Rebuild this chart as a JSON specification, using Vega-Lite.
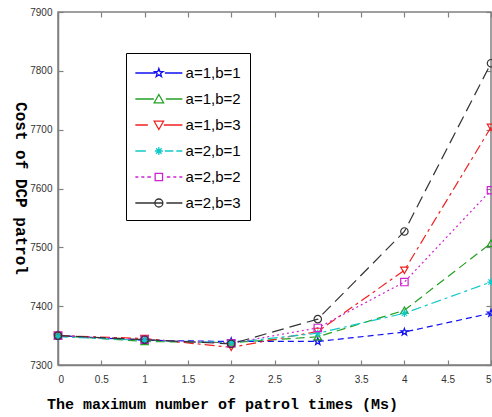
{
  "$schema": "https://vega.github.io/schema/vega-lite/v6.json",
  "width": 433,
  "height": 353,
  "autosize": {"type": "none"},
  "padding": {"left": 58, "top": 12, "right": 1, "bottom": 52},
  "background": "white",
  "config": {
    "view": {"stroke": "#808080", "strokeWidth": 1.5},
    "axis": {
      "labelFont": "Liberation Sans",
      "labelFontSize": 10,
      "labelColor": "#333333",
      "domainColor": "#808080",
      "domainWidth": 1.5,
      "tickColor": "#808080",
      "tickWidth": 1.2,
      "tickSize": -5,
      "grid": false
    }
  },
  "data": {
    "values": [
      {"x": 0, "y": 7350, "s": "a=1,b=1"},
      {"x": 1, "y": 7342, "s": "a=1,b=1"},
      {"x": 2, "y": 7340, "s": "a=1,b=1"},
      {"x": 3, "y": 7340, "s": "a=1,b=1"},
      {"x": 4, "y": 7356, "s": "a=1,b=1"},
      {"x": 5, "y": 7388, "s": "a=1,b=1"},
      {"x": 0, "y": 7350, "s": "a=1,b=2"},
      {"x": 1, "y": 7340, "s": "a=1,b=2"},
      {"x": 2, "y": 7338, "s": "a=1,b=2"},
      {"x": 3, "y": 7348, "s": "a=1,b=2"},
      {"x": 4, "y": 7393, "s": "a=1,b=2"},
      {"x": 5, "y": 7507, "s": "a=1,b=2"},
      {"x": 0, "y": 7350, "s": "a=1,b=3"},
      {"x": 1, "y": 7345, "s": "a=1,b=3"},
      {"x": 2, "y": 7330, "s": "a=1,b=3"},
      {"x": 3, "y": 7357, "s": "a=1,b=3"},
      {"x": 4, "y": 7461, "s": "a=1,b=3"},
      {"x": 5, "y": 7704, "s": "a=1,b=3"},
      {"x": 0, "y": 7348, "s": "a=2,b=1"},
      {"x": 1, "y": 7342, "s": "a=2,b=1"},
      {"x": 2, "y": 7338, "s": "a=2,b=1"},
      {"x": 3, "y": 7354, "s": "a=2,b=1"},
      {"x": 4, "y": 7388, "s": "a=2,b=1"},
      {"x": 5, "y": 7441, "s": "a=2,b=1"},
      {"x": 0, "y": 7350, "s": "a=2,b=2"},
      {"x": 1, "y": 7343, "s": "a=2,b=2"},
      {"x": 2, "y": 7337, "s": "a=2,b=2"},
      {"x": 3, "y": 7363, "s": "a=2,b=2"},
      {"x": 4, "y": 7441, "s": "a=2,b=2"},
      {"x": 5, "y": 7597, "s": "a=2,b=2"},
      {"x": 0, "y": 7350, "s": "a=2,b=3"},
      {"x": 1, "y": 7343, "s": "a=2,b=3"},
      {"x": 2, "y": 7336, "s": "a=2,b=3"},
      {"x": 3, "y": 7378, "s": "a=2,b=3"},
      {"x": 4, "y": 7527, "s": "a=2,b=3"},
      {"x": 5, "y": 7813, "s": "a=2,b=3"}
    ]
  },
  "layer": [
    {
      "mark": {"type": "line", "strokeWidth": 1.2},
      "encoding": {
        "x": {
          "field": "x", "type": "quantitative",
          "scale": {"domain": [0, 5], "nice": false, "zero": false},
          "axis": {
            "values": [0, 0.5, 1, 1.5, 2, 2.5, 3, 3.5, 4, 4.5, 5],
            "format": "~g",
            "labelPadding": 14,
            "title": "The maximum number of patrol times (Ms)",
            "titleFont": "Liberation Mono",
            "titleFontSize": 15,
            "titleFontWeight": "bold",
            "titleColor": "#000000",
            "titleX": 164,
            "titleY": 43,
            "titleAlign": "center",
            "titleBaseline": "alphabetic"
          }
        },
        "y": {
          "field": "y", "type": "quantitative",
          "scale": {"domain": [7300, 7900], "nice": false, "zero": false},
          "axis": {
            "values": [7300, 7400, 7500, 7600, 7700, 7800, 7900],
            "format": "d",
            "labelPadding": 11,
            "title": "Cost of DCP patrol",
            "titleFont": "Liberation Mono",
            "titleFontSize": 16,
            "titleFontWeight": "bold",
            "titleColor": "#000000",
            "titleAngle": 90,
            "titleX": -38,
            "titleY": 176,
            "titleAlign": "center",
            "titleBaseline": "middle"
          }
        },
        "stroke": {
          "field": "s", "type": "nominal",
          "scale": {
            "domain": ["a=1,b=1", "a=1,b=2", "a=1,b=3", "a=2,b=1", "a=2,b=2", "a=2,b=3"],
            "range": ["#1010f0", "#22a022", "#f02020", "#10c8c8", "#d020d0", "#333333"]
          },
          "legend": null
        },
        "strokeDash": {
          "field": "s", "type": "nominal",
          "scale": {
            "domain": ["a=1,b=1", "a=1,b=2", "a=1,b=3", "a=2,b=1", "a=2,b=2", "a=2,b=3"],
            "range": [[6, 4], [9, 5], [10, 4, 3, 4], [10, 4, 3, 4], [2, 3], [12, 6]]
          },
          "legend": null
        }
      }
    },
    {
      "mark": {"type": "point", "filled": false, "size": 55, "strokeWidth": 1.2, "opacity": 1},
      "encoding": {
        "x": {
          "field": "x", "type": "quantitative",
          "axis": {"orient": "top", "values": [0, 0.5, 1, 1.5, 2, 2.5, 3, 3.5, 4, 4.5, 5], "labels": false, "domain": false, "title": null}
        },
        "y": {
          "field": "y", "type": "quantitative",
          "axis": {"orient": "right", "values": [7300, 7400, 7500, 7600, 7700, 7800, 7900], "labels": false, "domain": false, "title": null}
        },
        "stroke": {"field": "s", "type": "nominal", "legend": null},
        "shape": {
          "field": "s", "type": "nominal",
          "scale": {
            "domain": ["a=1,b=1", "a=1,b=2", "a=1,b=3", "a=2,b=1", "a=2,b=2", "a=2,b=3"],
            "range": [
              "M0,-1L0.235,-0.324L0.951,-0.309L0.38,0.124L0.588,0.809L0,0.4L-0.588,0.809L-0.38,0.124L-0.951,-0.309L-0.235,-0.324Z",
              "triangle-up",
              "triangle-down",
              "M-1,0H1M0,-1V1M-0.7,-0.7L0.7,0.7M-0.7,0.7L0.7,-0.7",
              "square",
              "circle"
            ]
          },
          "legend": null
        }
      }
    },
    {
      "mark": {"type": "point", "filled": false, "size": 400, "strokeWidth": 1.3, "opacity": 0},
      "encoding": {
        "x": {"field": "x", "type": "quantitative", "axis": null},
        "y": {"field": "y", "type": "quantitative", "axis": null},
        "color": {
          "field": "s", "type": "nominal",
          "scale": {
            "range": ["#1010f0", "#22a022", "#f02020", "#10c8c8", "#d020d0", "#333333"]
          },
          "legend": {
            "orient": "none",
            "legendX": 68,
            "legendY": 41,
            "title": null,
            "padding": 9,
            "strokeColor": "#000000",
            "fillColor": "#ffffff",
            "symbolSize": 400,
            "symbolOpacity": 1,
            "symbolStrokeWidth": 1.3,
            "symbolOffset": 12.85,
            "labelOffset": 15.7,
            "rowPadding": 7,
            "labelFont": "Liberation Sans",
            "labelFontSize": 15,
            "labelColor": "#000000"
          }
        },
        "shape": {
          "field": "s", "type": "nominal",
          "scale": {
            "range": [
              "M-2.35,0H-0.35M0.6,0H2.35M0,-0.45L0.106,-0.146L0.428,-0.139L0.171,0.056L0.265,0.364L0,0.18L-0.265,0.364L-0.171,0.056L-0.428,-0.139L-0.106,-0.146Z",
              "M-2.35,0H-0.5M0.7,0H2.35M0,-0.45L0.47,0.38L-0.47,0.38Z",
              "M-2.35,0H-1.1M0.5,0H2.35M0,0.45L0.47,-0.38L-0.47,-0.38Z",
              "M-2.35,0H-1.3M0.6,0H1.45M1.75,0H2.35M-0.4,0H0.4M0,-0.4V0.4M-0.28,-0.28L0.28,0.28M-0.28,0.28L0.28,-0.28",
              "M-2.35,0H-2.05M-1.75,0H-1.45M-1.15,0H-0.8M0.8,0H1.15M1.45,0H1.75M2.05,0H2.35M-0.37,-0.37H0.37V0.37H-0.37Z",
              "M-2.35,0H-0.4M0.75,0H2.35M0.4,0A0.4,0.4,0,1,1,-0.4,0A0.4,0.4,0,1,1,0.4,0ZM-0.4,0H0.4"
            ]
          },
          "legend": {
            "orient": "none",
            "legendX": 68,
            "legendY": 41,
            "title": null,
            "padding": 9,
            "strokeColor": "#000000",
            "fillColor": "#ffffff",
            "symbolSize": 400,
            "symbolOpacity": 1,
            "symbolStrokeWidth": 1.3,
            "symbolOffset": 12.85,
            "labelOffset": 15.7,
            "rowPadding": 7,
            "labelFont": "Liberation Sans",
            "labelFontSize": 15,
            "labelColor": "#000000"
          }
        }
      }
    }
  ],
  "resolve": {
    "axis": {"x": "independent", "y": "independent"},
    "scale": {"shape": "independent", "color": "independent"}
  }
}
